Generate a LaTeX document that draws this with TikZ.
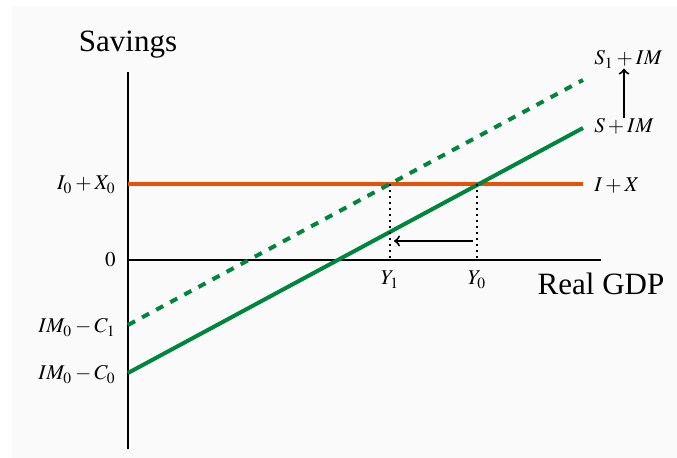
\documentclass[tikz,border=0pt]{standalone}
\usepackage{mathptmx}
\usepackage[no-math]{fontspec}
\setmainfont{Liberation Serif}
\usetikzlibrary{calc}
\definecolor{savegreen}{RGB}{0,133,63}
\definecolor{exporange}{RGB}{232,82,8}

\begin{document}
\begin{tikzpicture}[x=0.5pt, y=-0.5pt,
    axis/.style={line width=1.1pt},
    sched/.style={line width=2pt},
    lbl/.style={font=\fontsize{10.5}{12}\selectfont, inner sep=0pt},
    big/.style={font=\fontsize{15.5}{18}\selectfont, inner sep=0pt},
    guide/.style={dotted, line width=1pt},
    shiftarr/.style={->, line width=1pt}]
  \useasboundingbox (0,0) rectangle (677,458);
  \fill[gray!4] (12,6) rectangle (677,458);
  % axes
  \coordinate (ytop) at (128,72);
  \coordinate (ybot) at (128,449);
  \coordinate (xbeg) at (128,260);
  \coordinate (xend) at (601,260);
  \draw[axis] (ytop) -- (ybot);
  \draw[axis] (xbeg) -- (xend);
  % schedules
  \coordinate (ix0) at (128,184);
  \coordinate (ix1) at (583,184);
  \coordinate (s0) at (128,373);
  \coordinate (s1) at (583,128);
  \coordinate (t0) at (128,325);
  \coordinate (t1) at (583,80);
  \draw[sched, exporange] (ix0) -- (ix1);
  \draw[sched, savegreen] (s0) -- (s1);
  \draw[sched, savegreen, dash pattern=on 4pt off 4pt] (t0) -- (t1);
  % equilibria
  \coordinate (e1) at (390,184);
  \coordinate (e0) at (477,184);
  \draw[guide] (e1) -- (e1 |- xbeg);
  \draw[guide] (e0) -- (e0 |- xbeg);
  \coordinate (a0) at (473,241);
  \coordinate (a1) at (394,241);
  \draw[shiftarr] (a0) -- (a1);
  % labels
  \node[big, anchor=base] (savings) at (128,52) {Savings};
  \node[big, anchor=base] (gdp) at (601,295) {Real GDP};
  \node[lbl, anchor=base west] (sim) at (594,133) {$S+IM$};
  \node[lbl, anchor=base west] (s1im) at (594,65) {$S_1+IM$};
  \node[lbl, anchor=base west] (ix) at (594,192) {$I+X$};
  \draw[shiftarr] (sim.north) -- (sim.north |- s1im.south);
  \node[lbl, anchor=base east] (ixzero) at (116,190) {$I_0+X_0$};
  \node[lbl, anchor=base east] (zero) at (116,267) {$0$};
  \node[lbl, anchor=base east] (imc1) at (116,333) {$IM_0-C_1$};
  \node[lbl, anchor=base east] (imc0) at (116,380) {$IM_0-C_0$};
  \node[lbl, anchor=base] (y1) at (390,285) {$Y_1$};
  \node[lbl, anchor=base] (y0) at (477,285) {$Y_0$};
\end{tikzpicture}
\end{document}
